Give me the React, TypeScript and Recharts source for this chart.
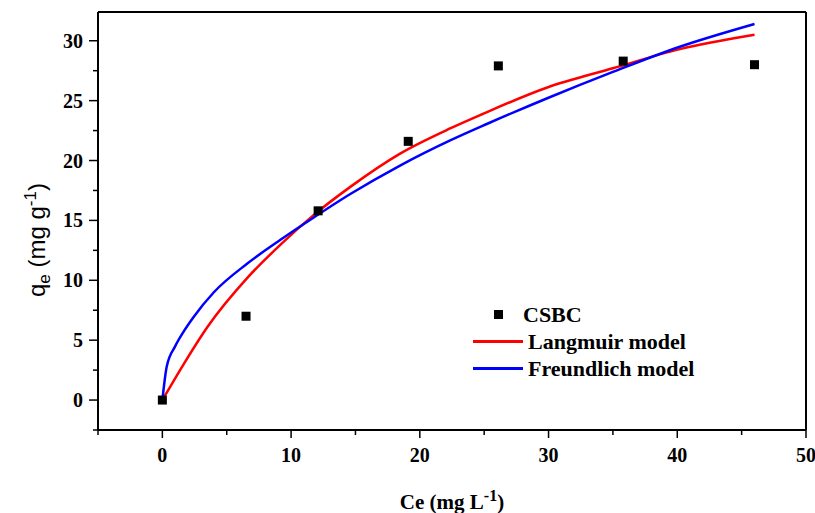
import { ComposedChart, Line, Scatter, XAxis, YAxis, ReferenceLine, Legend, Label } from 'recharts';

// measured points (CSBC)
const ceObserved = [0, 6.5, 12.1, 19.1, 26.1, 35.8, 46.0];
const qeObserved = [0, 7.0, 15.8, 21.6, 27.9, 28.3, 28.0];

// fitted curves
const ceLangmuir = [0, 0.3, 1.6, 3.5, 6.6, 9.2, 11.7, 14.6, 18.5, 22.4, 24.7, 29.9, 35.0, 40.2, 46];
const qeLangmuir = [0, 0.55, 2.9, 6.1, 10.2, 13.0, 15.4, 17.8, 20.6, 22.7, 23.8, 26.1, 27.7, 29.3, 30.5];
const ceFreundlich = [0, 0.34, 1.0, 1.7, 2.4, 4.0, 6.6, 9.2, 11.7, 14.6, 18.5, 22.4, 25.2, 29.9, 35.0, 40.2, 46];
const qeFreundlich = [0, 2.8, 4.5, 5.8, 6.9, 9.0, 11.4, 13.4, 15.2, 17.2, 19.6, 21.7, 23.05, 25.2, 27.4, 29.5, 31.4];

const xTicks = [-5, 0, 5, 10, 15, 20, 25, 30, 35, 40, 45, 50];
const xMajor = [0, 10, 20, 30, 40, 50];
const yTicks = [-2.5, 0, 2.5, 5, 7.5, 10, 12.5, 15, 17.5, 20, 22.5, 25, 27.5, 30];
const yMajor = [0, 5, 10, 15, 20, 25, 30];

const observed = ceObserved.map((ce, i) => ({ ce, qe: qeObserved[i] }));
const langmuir = ceLangmuir.map((ce, i) => ({ ce, qe: qeLangmuir[i] }));
const freundlich = ceFreundlich.map((ce, i) => ({ ce, qe: qeFreundlich[i] }));

const serif = '"Liberation Serif", "Times New Roman", serif';
const sans = '"Liberation Sans", Arial, sans-serif';

const XTick = (props: any) => {
    const { x, y, payload } = props;
    const major = xMajor.includes(payload.value);
    return (
        <g>
            <line x1={x} y1={y} x2={x} y2={y + (major ? 8 : 5)} stroke="#000" strokeWidth={1.5} />
            {major && (
                <text x={x} y={y + 32} textAnchor="middle" fontFamily={serif} fontWeight="bold" fontSize={20} fill="#000">
                    {payload.value}
                </text>
            )}
        </g>
    );
};

const YTick = (props: any) => {
    const { x, y, payload } = props;
    const major = yMajor.includes(payload.value);
    return (
        <g>
            <line x1={x} y1={y} x2={x - (major ? 9 : 5)} y2={y} stroke="#000" strokeWidth={1.5} />
            {major && (
                <text x={x - 15} y={y} dy="0.35em" textAnchor="end" fontFamily={serif} fontWeight="bold" fontSize={20} fill="#000">
                    {payload.value}
                </text>
            )}
        </g>
    );
};

const YTitle = ({ viewBox }: any) => {
    const cx = viewBox.x + 45;
    const cy = viewBox.y + viewBox.height / 2 + 19;
    return (
        <text x={cx} y={cy} transform={`rotate(-90, ${cx}, ${cy})`} textAnchor="middle" fontFamily={sans} fontSize={24} fill="#000">
            q<tspan dy={5} fontSize={17}>e</tspan>
            <tspan dy={-5}> (mg g</tspan>
            <tspan dy={-9} fontSize={17}>-1</tspan>
            <tspan dy={9}>)</tspan>
        </text>
    );
};

const XTitle = ({ viewBox }: any) => {
    const cx = viewBox.x + viewBox.width / 2;
    const cy = viewBox.y + 79;
    return (
        <text x={cx} y={cy} textAnchor="middle" fontFamily={serif} fontWeight="bold" fontSize={21} fill="#000">
            Ce (mg L<tspan dy={-8} fontSize={16}>-1</tspan>
            <tspan dy={8}>)</tspan>
        </text>
    );
};

const SquareDot = (props: any) => {
    const { cx, cy } = props;
    return <rect x={cx - 4.5} y={cy - 4.5} width={9} height={9} fill="#000" />;
};

const LegendBox = () => {
    const row = { display: 'flex', alignItems: 'center', height: 27 } as const;
    const icon = { width: 50, display: 'flex', justifyContent: 'center', alignItems: 'center' } as const;
    return (
        <div style={{ fontFamily: serif, fontWeight: 'bold', fontSize: 22, color: '#000', lineHeight: 1 }}>
            <div style={row}>
                <span style={icon}><span style={{ width: 9, height: 9, background: '#000' }} /></span>
                <span>CSBC</span>
            </div>
            <div style={row}>
                <span style={icon}><span style={{ width: 50, height: 2.5, background: '#ff0000' }} /></span>
                <span style={{ marginLeft: 5 }}>Langmuir model</span>
            </div>
            <div style={row}>
                <span style={icon}><span style={{ width: 50, height: 2.5, background: '#0000ff' }} /></span>
                <span style={{ marginLeft: 5 }}>Freundlich model</span>
            </div>
        </div>
    );
};

export default function App() {
    return (
        <div style={{ position: 'absolute', left: 0, top: 0, background: '#fff' }}>
            <ComposedChart width={815} height={513} margin={{ top: 12, right: 9, bottom: 0, left: 0 }}>
                <XAxis
                    dataKey="ce"
                    type="number"
                    domain={[-5, 50]}
                    ticks={xTicks}
                    interval={0}
                    allowDataOverflow
                    height={83}
                    tickSize={0}
                    tickMargin={0}
                    tickLine={false}
                    tick={<XTick />}
                    axisLine={{ stroke: '#000', strokeWidth: 2 }}
                >
                    <Label content={<XTitle />} />
                </XAxis>
                <YAxis
                    dataKey="qe"
                    type="number"
                    domain={[-2.5, 32.4]}
                    ticks={yTicks}
                    interval={0}
                    allowDataOverflow
                    width={98}
                    tickSize={0}
                    tickMargin={0}
                    tickLine={false}
                    tick={<YTick />}
                    axisLine={{ stroke: '#000', strokeWidth: 2 }}
                >
                    <Label content={<YTitle />} />
                </YAxis>
                <ReferenceLine y={32.4} stroke="#000" strokeWidth={2} />
                <ReferenceLine x={50} stroke="#000" strokeWidth={2} />
                <Line data={langmuir} dataKey="qe" type="monotone" stroke="#ff0000" strokeWidth={2.5} dot={false} isAnimationActive={false} />
                <Line data={freundlich} dataKey="qe" type="monotone" stroke="#0000ff" strokeWidth={2.5} dot={false} isAnimationActive={false} />
                <Scatter data={observed} dataKey="qe" shape={<SquareDot />} isAnimationActive={false} />
                <Legend
                    layout="vertical"
                    align="center"
                    verticalAlign="middle"
                    content={<LegendBox />}
                    wrapperStyle={{ left: 473, top: 301, width: 'auto' }}
                />
            </ComposedChart>
        </div>
    );
}
